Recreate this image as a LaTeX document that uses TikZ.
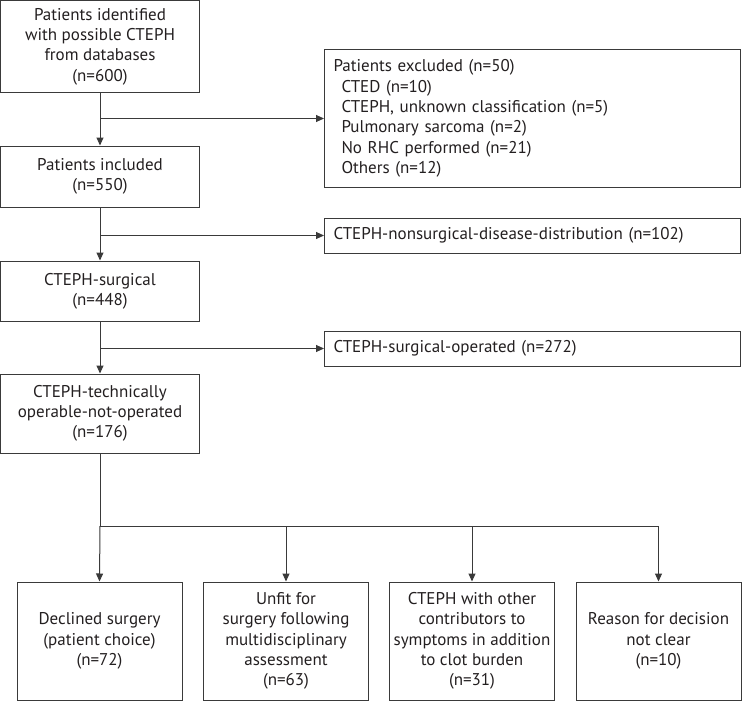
\documentclass[tikz,border=0pt]{standalone}
\usepackage{fontspec}
\setmainfont{PT Sans}
\usetikzlibrary{arrows.meta}
\definecolor{linec}{HTML}{3A3A3A}
\definecolor{textc}{HTML}{231F20}
\tikzset{
  box/.style={draw=linec, line width=1pt, text=textc, font=\fontsize{17}{20.3}\selectfont, align=center, inner sep=1pt},
  leftbox/.style={box, align=left, inner xsep=9pt},
  arr/.style={draw=linec, line width=1pt, -{Triangle[length=8pt,width=7pt]}},
  ln/.style={draw=linec, line width=1pt}
}
\begin{document}
\begin{tikzpicture}[x=1pt,y=-1pt]
\useasboundingbox (0,0) rectangle (742,701);
\node[box, minimum width=199pt, minimum height=92pt] (n1) at (100,46.5) {Patients identified\\with possible CTEPH\\from databases\\(n=600)};
\node[box, minimum width=199pt, minimum height=61pt] (n2) at (100,176.5) {Patients included\\(n=550)};
\node[box, minimum width=199pt, minimum height=60pt] (n3) at (100,291) {CTEPH-surgical\\(n=448)};
\node[box, minimum width=199pt, minimum height=79pt] (n4) at (100,413.5) {CTEPH-technically\\operable-not-operated\\(n=176)};
\node[leftbox, minimum width=416pt, text width=398pt, minimum height=137pt] (ex) at (532.5,118.5) {Patients excluded (n=50)\\\hspace*{8pt}CTED (n=10)\\\hspace*{8pt}CTEPH, unknown classification (n=5)\\\hspace*{8pt}Pulmonary sarcoma (n=2)\\\hspace*{8pt}No RHC performed (n=21)\\\hspace*{8pt}Others (n=12)};
\node[leftbox, minimum width=416pt, text width=398pt, minimum height=35pt] (ns) at (532.5,235.5) {CTEPH-nonsurgical-disease-distribution (n=102)};
\node[leftbox, minimum width=416pt, text width=398pt, minimum height=35pt] (op) at (532.5,348.5) {CTEPH-surgical-operated (n=272)};
\node[box, minimum width=165pt, minimum height=118pt] (b1) at (99.5,641) {Declined surgery\\(patient choice)\\(n=72)};
\node[box, minimum width=165pt, minimum height=118pt] (b2) at (286,641) {Unfit for\\surgery following\\multidisciplinary\\assessment\\(n=63)};
\node[box, minimum width=165pt, minimum height=118pt] (b3) at (472,641) {CTEPH with other\\contributors to\\symptoms in addition\\to clot burden\\(n=31)};
\node[box, minimum width=165pt, minimum height=118pt] (b4) at (658.5,641) {Reason for decision\\not clear\\(n=10)};
\coordinate (hub) at (100,526);
\draw[arr] (n1.south) -- (n2.north);
\draw[arr] (n2.south) -- (n3.north);
\draw[arr] (n3.south) -- (n4.north);
\draw[arr] (n1.south |- ex.west) -- (ex.west);
\draw[arr] (n2.south |- ns.west) -- (ns.west);
\draw[arr] (n3.south |- op.west) -- (op.west);
\draw[ln] (n4.south) -- (hub);
\draw[ln] (hub) -- (b4.north |- hub);
\draw[arr] (hub) -- (b1.north);
\draw[arr] (b2.north |- hub) -- (b2.north);
\draw[arr] (b3.north |- hub) -- (b3.north);
\draw[arr] (b4.north |- hub) -- (b4.north);
\end{tikzpicture}
\end{document}
